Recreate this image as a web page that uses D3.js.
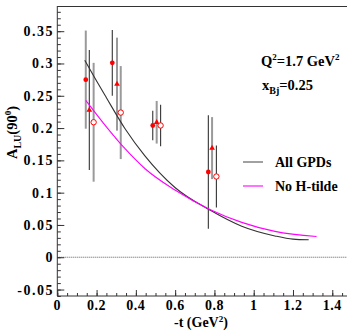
<!DOCTYPE html>
<html><head><meta charset="utf-8">
<script src="https://cdn.jsdelivr.net/npm/d3@7"></script>
<style>
html,body{margin:0;padding:0;background:#fff;}
svg text{font-family:"Liberation Serif","Times New Roman",serif;font-weight:bold;fill:#000;}
</style></head><body>
<svg id="c" width="348" height="331"></svg>
<script>
// ---- data ----
const seriesNames = ["filledCircle", "triangle", "openCircle"];
const tFilled   = [0.145, 0.280, 0.486, 0.769];
const aFilled   = [0.275, 0.301, 0.204, 0.132];
const eFilled   = [0.076, 0.051, 0.023, 0.088];
const tTriangle = [0.163, 0.304, 0.506, 0.788];
const aTriangle = [0.228, 0.268, 0.209, 0.169];
const eTriangle = [0.093, 0.072, 0.033, 0.048];
const tOpen     = [0.185, 0.323, 0.526, 0.810];
const aOpen     = [0.209, 0.224, 0.204, 0.125];
const eOpen     = [0.092, 0.072, 0.032, 0.048];

const tAllGPDs = [0.14, 0.192, 0.25, 0.345, 0.446, 0.599, 0.777, 0.939, 1.108, 1.20, 1.28];
const aAllGPDs = [0.305, 0.277, 0.247, 0.199, 0.157, 0.108, 0.073, 0.048, 0.033, 0.028, 0.027];
const tNoHt = [0.145, 0.25, 0.345, 0.447, 0.599, 0.777, 0.939, 1.108, 1.32];
const aNoHt = [0.243, 0.202, 0.168, 0.137, 0.104, 0.074, 0.054, 0.040, 0.032];

const xTicks = [0, 0.2, 0.4, 0.6, 0.8, 1, 1.2, 1.4];
const xTickLabels = ["0", "0.2", "0.4", "0.6", "0.8", "1", "1.2", "1.4"];
const yTicks = [-0.05, 0, 0.05, 0.1, 0.15, 0.2, 0.25, 0.3, 0.35];
const yTickLabels = ["-0.05", "0", "0.05", "0.1", "0.15", "0.2", "0.25", "0.3", "0.35"];
const legendLabels = ["All GPDs", "No H-tilde"];

// ---- styles (kept separate from data) ----
// error-bar tone per point: 1 = grey thick, 0 = dark thin
const barToneFilled   = [1, 0, 0, 0];
const barToneTriangle = [0, 1, 1, 1];
const barToneOpen     = [1, 1, 0, 0];

const svg = d3.select("#c");
const L = 57.3, R = 347, T = 6, B = 296;
const x = d3.scaleLinear().domain([0, 1.475]).range([L, R]);
const y = d3.scaleLinear().domain([-0.06, 0.389]).range([B, T]);

// frame
const frame = svg.append("g").attr("stroke", "#333").attr("stroke-width", 1).attr("fill", "none");
frame.append("line").attr("x1", L).attr("x2", R).attr("y1", T + 0.5).attr("y2", T + 0.5);
frame.append("line").attr("x1", L).attr("x2", R).attr("y1", B).attr("y2", B);
frame.append("line").attr("x1", L).attr("x2", L).attr("y1", T).attr("y2", B);

// axes with inward ticks
const yMinor = d3.range(-6, 39).map(i => i / 100);
const xMinor = d3.range(0, 30).map(i => i * 0.05);
const yAxisMinor = d3.axisRight(y).tickValues(yMinor).tickSize(3.5).tickFormat("");
const yAxisMajor = d3.axisRight(y).tickValues(yTicks).tickSize(7).tickFormat("");
const xAxisMinor = d3.axisTop(x).tickValues(xMinor).tickSize(3).tickFormat("");
const xAxisMajor = d3.axisTop(x).tickValues(xTicks).tickSize(6).tickFormat("");
[yAxisMinor, yAxisMajor].forEach(a => {
  const g = svg.append("g").attr("transform", `translate(${L},0)`).call(a);
  g.select(".domain").remove();
  g.selectAll("line").attr("stroke", "#333");
});
[xAxisMinor, xAxisMajor].forEach(a => {
  const g = svg.append("g").attr("transform", `translate(0,${B})`).call(a);
  g.select(".domain").remove();
  g.selectAll("line").attr("stroke", "#333");
});

// tick labels
svg.append("g").selectAll("text").data(yTicks).join("text")
  .attr("x", 54).attr("y", d => y(d) + 5)
  .attr("text-anchor", "end").attr("font-size", 14).attr("letter-spacing", 1.5)
  .text((d, i) => yTickLabels[i]);
svg.append("g").selectAll("text").data(xTicks).join("text")
  .attr("x", d => x(d)).attr("y", 310)
  .attr("text-anchor", "middle").attr("font-size", 14).attr("letter-spacing", 0.5)
  .text((d, i) => xTickLabels[i]);

// zero line
svg.append("line").attr("x1", L).attr("x2", R).attr("y1", y(0)).attr("y2", y(0))
  .attr("stroke", "#333").attr("stroke-width", 0.8).attr("stroke-dasharray", "1,1");

// error bars
function errBars(ts, as, es, tones) {
  svg.append("g").selectAll("line").data(ts).join("line")
    .attr("x1", d => x(d)).attr("x2", d => x(d))
    .attr("y1", (d, i) => y(as[i] + es[i])).attr("y2", (d, i) => y(as[i] - es[i]))
    .attr("stroke", (d, i) => tones[i] ? "#9a9a9a" : "#333")
    .attr("stroke-width", (d, i) => tones[i] ? 2 : 1.1);
}
errBars(tFilled, aFilled, eFilled, barToneFilled);
errBars(tTriangle, aTriangle, eTriangle, barToneTriangle);
errBars(tOpen, aOpen, eOpen, barToneOpen);

// curves
const line = d3.line().curve(d3.curveMonotoneX).x(d => x(d[0])).y(d => y(d[1]));
svg.append("path").datum(tAllGPDs.map((t, i) => [t, aAllGPDs[i]]))
  .attr("d", line).attr("fill", "none").attr("stroke", "#333").attr("stroke-width", 1.1);
svg.append("path").datum(tNoHt.map((t, i) => [t, aNoHt[i]]))
  .attr("d", line).attr("fill", "none").attr("stroke", "#ff00ff").attr("stroke-width", 1.1);

// markers
svg.append("g").selectAll("circle").data(tFilled).join("circle")
  .attr("cx", d => x(d)).attr("cy", (d, i) => y(aFilled[i])).attr("r", 2.4).attr("fill", "#ff0000");
svg.append("g").selectAll("path").data(tTriangle).join("path")
  .attr("transform", (d, i) => `translate(${x(d)},${y(aTriangle[i])})`)
  .attr("d", d3.symbol().type(d3.symbolTriangle).size(14)).attr("fill", "#ff0000");
svg.append("g").selectAll("circle").data(tOpen).join("circle")
  .attr("cx", d => x(d)).attr("cy", (d, i) => y(aOpen[i])).attr("r", 2.7)
  .attr("fill", "#fff").attr("stroke", "#ff0000").attr("stroke-width", 1);

// legend
const legColors = ["#555", "#ff00ff"];
legendLabels.forEach((lab, i) => {
  const yy = 162 + i * 24;
  svg.append("line").attr("x1", 243).attr("x2", 263).attr("y1", yy).attr("y2", yy)
    .attr("stroke", legColors[i]).attr("stroke-width", 1.1);
  svg.append("text").attr("x", 275).attr("y", yy + 5).attr("font-size", 14).text(lab);
});

// annotations
const q = svg.append("text").attr("x", 261).attr("y", 66).attr("font-size", 14.5);
q.append("tspan").text("Q");
q.append("tspan").attr("dy", -6).attr("font-size", 9).text("2");
q.append("tspan").attr("dy", 6).text("=1.7 GeV");
q.append("tspan").attr("dy", -6).attr("font-size", 9).text("2");

const xb = svg.append("text").attr("x", 262).attr("y", 90).attr("font-size", 14.5);
xb.append("tspan").text("x");
xb.append("tspan").attr("dy", 4).attr("font-size", 10).text("Bj");
xb.append("tspan").attr("dy", -4).text("=0.25");

// axis titles
const xt = svg.append("text").attr("x", 174).attr("y", 327).attr("font-size", 14);
xt.append("tspan").text("-t (GeV");
xt.append("tspan").attr("dy", -5).attr("font-size", 9).text("2");
xt.append("tspan").attr("dy", 5).text(")");

const yt = svg.append("text").attr("transform", "translate(17,106) rotate(-90)")
  .attr("text-anchor", "end").attr("font-size", 14.5);
yt.append("tspan").text("A");
yt.append("tspan").attr("dy", 4).attr("font-size", 10).text("LU");
yt.append("tspan").attr("dy", -4).text("(90");
yt.append("tspan").attr("dy", -6).attr("font-size", 9).text("0");
yt.append("tspan").attr("dy", 6).text(")");
</script>
</body></html>
